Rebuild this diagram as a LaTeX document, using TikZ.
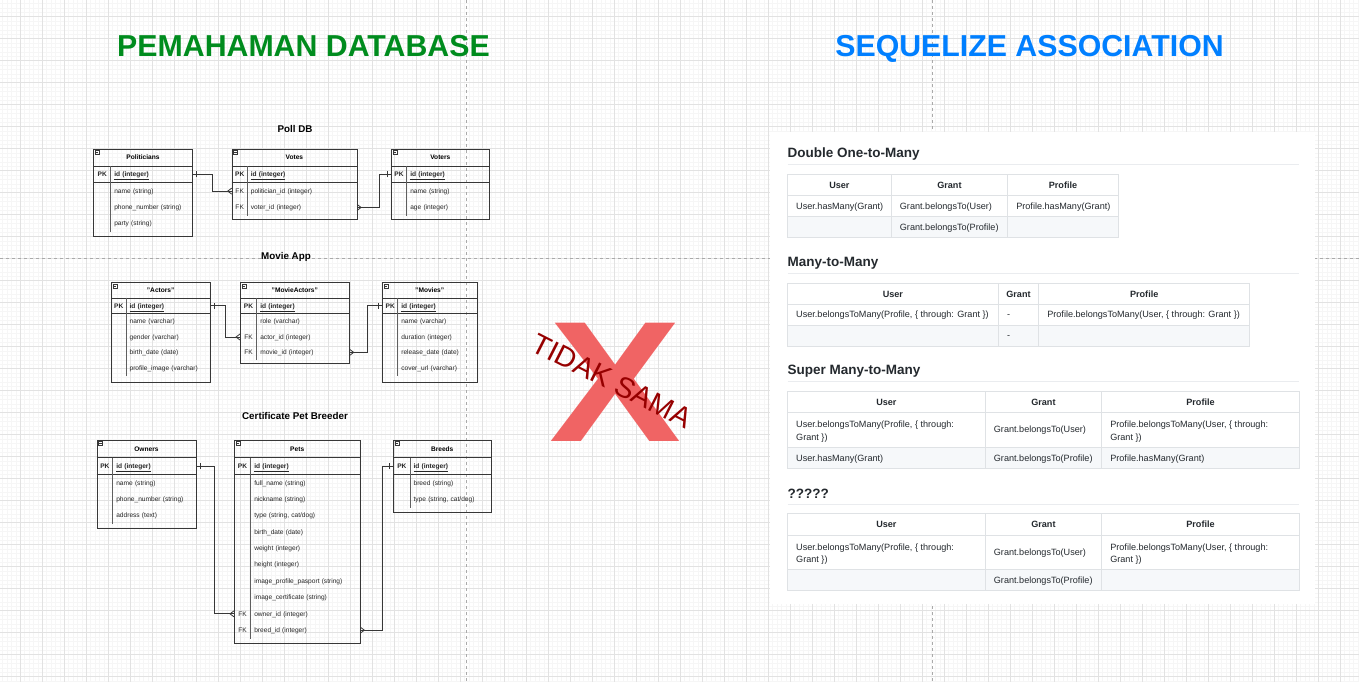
\documentclass[tikz,border=0pt]{standalone}
\usepackage{fontspec}
\setmainfont{Liberation Sans}
\usetikzlibrary{calc,decorations.markings}

\definecolor{minorc}{RGB}{246,246,246}
\definecolor{majorc}{RGB}{226,226,226}
\definecolor{breakc}{RGB}{170,170,170}
\definecolor{erc}{RGB}{55,55,55}
\definecolor{greenc}{RGB}{0,140,30}
\definecolor{bluec}{RGB}{0,127,255}
\definecolor{crossc}{RGB}{240,100,100}
\definecolor{darkredc}{RGB}{150,0,0}
\definecolor{ghtextc}{RGB}{36,41,46}
\definecolor{ghborderc}{RGB}{223,226,229}
\definecolor{ghrulec}{RGB}{234,236,239}
\definecolor{ghstripec}{RGB}{246,248,250}

\tikzstyle{gridminor}=[draw=minorc,line width=0.6pt]
\tikzstyle{gridmajor}=[draw=majorc,line width=0.8pt]
\tikzstyle{pagebreak}=[draw=breakc,line width=0.8pt,dash pattern=on 3pt off 3pt]
\tikzstyle{bigtitle}=[font=\bfseries\fontsize{30.3}{32}\selectfont,anchor=base,inner sep=0]
\tikzstyle{ertitle}=[font=\bfseries\fontsize{9.8}{11}\selectfont,anchor=base,inner sep=0]
\tikzstyle{erline}=[draw=erc,line width=0.8pt]
\tikzstyle{erdiv}=[draw=erc!80,line width=0.6pt]
\tikzstyle{erbox}=[erline,rectangle,inner sep=0]
\tikzstyle{erhead}=[rectangle,inner sep=0,font=\bfseries\fontsize{6.6}{8}\selectfont]
\tikzstyle{errow}=[rectangle,inner sep=0,align=left,text=black!85,font=\fontsize{6.6}{8}\selectfont,text height=4.7pt,text depth=0.3pt]
\tikzstyle{onestart}=[postaction={decorate,decoration={markings,mark=at position 4pt with {\draw[erline] (0pt,-3pt) -- (0pt,3pt);}}}]
\tikzstyle{oneend}=[postaction={decorate,decoration={markings,mark=at position -4pt with {\draw[erline] (0pt,-3pt) -- (0pt,3pt);}}}]
\tikzstyle{manystart}=[postaction={decorate,decoration={markings,mark=at position 4pt with {\draw[erline] (-4pt,-3pt) -- (0pt,0pt) -- (-4pt,3pt);}}}]
\tikzstyle{manyend}=[postaction={decorate,decoration={markings,mark=at position -4pt with {\draw[erline] (4pt,-3pt) -- (0pt,0pt) -- (4pt,3pt);}}}]
\tikzstyle{ghheading}=[font=\bfseries\fontsize{13.5}{15}\selectfont,text=ghtextc,anchor=base west,inner sep=0]
\tikzstyle{ghrule}=[draw=ghrulec,line width=0.8pt]
\tikzstyle{ghgrid}=[draw=ghborderc,line width=0.8pt]
\tikzstyle{ghhead}=[font=\bfseries\fontsize{9.1}{11}\selectfont,text=ghtextc,inner sep=0,text height=6.5pt,text depth=0pt]
\tikzstyle{ghcell}=[font=\fontsize{9.1}{11}\selectfont,text=ghtextc,inner sep=0,anchor=west,text height=6.5pt,text depth=0.5pt]
\tikzstyle{ghwrap}=[font=\fontsize{9.1}{12.3}\selectfont,text=ghtextc,inner sep=0,anchor=west,align=left]

% name, left, top, width, key column, bottom, title, pk field, rows
\newcommand{\ertable}[9]{%
  \node[erbox,minimum width=#4,minimum height={#6-#3},anchor=north west] (#1) at (#2,#3) {};
  \node[erhead,minimum width=#4,minimum height=\headh,anchor=north west] (#1-h) at (#2,#3) {#7};
  \draw[erline,line width=0.5pt] ([shift={(1.8pt,-1.6pt)}]#1-h.north west) rectangle ++(4pt,-4pt);
  \draw[erline,line width=0.5pt] ([shift={(2.6pt,-3.6pt)}]#1-h.north west) -- ++(2.4pt,0pt);
  \node[errow,text width=#4pt,minimum height=\rowh,anchor=north west] (#1-0) at (#1-h.south west)
    {\makebox[#5pt]{\bfseries PK}\hspace{3.4pt}\textbf{\underline{#8}}};
  \draw[erline] (#1-h.south west) -- (#1-h.south east);
  \draw[erline] (#1-0.south west) -- (#1-0.south east);
  \draw[erdiv] ([xshift=#5pt]#1-0.north west) -- ([xshift=#5pt]#1-0.south west);
  \foreach \rk/\rt [count=\i] in {#9} {
    \node[errow,text width=#4pt,minimum height=\rowh,anchor=north west] (#1-\i)
      at ([yshift={-(\i-1)*\rowh}]#1-0.south west) {\makebox[#5pt]{\rk}\hspace{3.4pt}\rt};
    \draw[erdiv] ([xshift=#5pt]#1-\i.north west) -- ([xshift=#5pt]#1-\i.south west);
  }
}

% left, col a, col b, right, top, row a, row b, bottom
\newcommand{\ghframe}[8]{%
  \fill[ghstripec] (#1,#7) rectangle (#4,#8);
  \draw[ghgrid] (#1,#5) rectangle (#4,#8);
  \draw[ghgrid] (#1,#6) -- (#4,#6) (#1,#7) -- (#4,#7) (#2,#5) -- (#2,#8) (#3,#5) -- (#3,#8);
}

\begin{document}
\begin{tikzpicture}[x=1pt,y=-1pt]
\useasboundingbox (0,0) rectangle (1359,682);
\fill[white] (0,0) rectangle (1359,682);
\draw[gridminor] \foreach \g in {0,...,308} {({2.7+4.4*\g},0) -- ({2.7+4.4*\g},682)};
\draw[gridminor] \foreach \g in {0,...,154} {(0,{3.5+4.4*\g}) -- (1359,{3.5+4.4*\g})};
\draw[gridmajor] \foreach \g in {0,...,61} {({20.3+22*\g},0) -- ({20.3+22*\g},682)};
\draw[gridmajor] \foreach \g in {0,...,30} {(0,{16.7+22*\g}) -- (1359,{16.7+22*\g})};
\draw[pagebreak] (466.3,0) -- (466.3,682) (932.6,0) -- (932.6,682) (0,258.3) -- (1359,258.3);

\node[bigtitle,text=greenc] (ttl-db) at (303.5,56.7) {PEMAHAMAN DATABASE};
\node[bigtitle,text=bluec] (ttl-seq) at (1029.5,56.7) {SEQUELIZE ASSOCIATION};

\node[ertitle] (poll) at (295,132.8) {Poll DB};
\def\headh{16.7}\def\rowh{16.3}
\ertable{pol}{93.3}{149}{99}{17.4}{236}{Politicians}{id (integer)}{{}/name (string), {}/phone\_number (string), {}/party (string)}
\ertable{vot}{231.7}{149}{125}{15.6}{219.3}{Votes}{id (integer)}{FK/politician\_id (integer), FK/voter\_id (integer)}
\ertable{vtr}{391}{149}{98.3}{15.7}{219.3}{Voters}{id (integer)}{{}/name (string), {}/age (integer)}
\draw[erline,onestart,manyend] (pol-0.east) -- ++(19.4,0) |- (vot-1.west);
\draw[erline,manystart,oneend] (vot-2.east) -- ++(22.6,0) |- (vtr-0.west);

\node[ertitle] (movie) at (286,259.3) {Movie App};
\def\headh{15.2}\def\rowh{15.4}
\ertable{act}{111}{282.3}{99}{15}{381.7}{"Actors"}{id (integer)}{{}/name (varchar), {}/gender (varchar), {}/birth\_date (date), {}/profile\_image (varchar)}
\ertable{mac}{240}{282.3}{109.3}{16.7}{363.3}{"MovieActors"}{id (integer)}{{}/role (varchar), FK/actor\_id (integer), FK/movie\_id (integer)}
\ertable{mov}{382.3}{282.3}{94.4}{15.4}{381.7}{"Movies"}{id (integer)}{{}/name (varchar), {}/duration (integer), {}/release\_date (date), {}/cover\_url (varchar)}
\draw[erline,onestart,manyend] (act-0.east) -- ++(15,0) |- (mac-2.west);
\draw[erline,manystart,oneend] (mac-3.east) -- ++(17.4,0) |- (mov-0.west);

\node[ertitle] (breeder) at (295,419.5) {Certificate Pet Breeder};
\def\headh{17.3}\def\rowh{16.37}
\ertable{own}{96.7}{440}{99}{16}{528}{Owners}{id (integer)}{{}/name (string), {}/phone\_number (string), {}/address (text)}
\ertable{pet}{234}{440}{126}{16.7}{643.3}{Pets}{id (integer)}{{}/full\_name (string), {}/nickname (string), {}/{type (string, cat/dog)}, {}/birth\_date (date), {}/weight (integer), {}/height (integer), {}/image\_profile\_pasport (string), {}/image\_certificate (string), FK/owner\_id (integer), FK/breed\_id (integer)}
\ertable{brd}{393.3}{440}{97.4}{16.7}{511.7}{Breeds}{id (integer)}{{}/breed (string), {}/{type (string, cat/dog)}}
\draw[erline,onestart,manyend] (own-0.east) -- ++(18.6,0) |- (pet-9.west);
\draw[erline,manystart,oneend] (pet-10.east) -- ++(22.3,0) |- (brd-0.west);

\node[inner sep=0,text=crossc,font=\bfseries\fontsize{172}{172}\selectfont] (cross) at (615,382.5) {\scalebox{1.15}[1]{X}};
\node[inner sep=0,text=darkredc,font=\fontsize{28.8}{30}\selectfont,rotate=-27] (notsame) at (612,380.8) {TIDAK SAMA};

\fill[white] (770,131.7) rectangle (1315,604);

\node[ghheading] (h-double) at (787.5,157.3) {Double One-to-Many};
\draw[ghrule] (787.5,164.3) -- (1299.3,164.3);
\ghframe{787.5}{891.2}{1007.6}{1118.5}{174.3}{195.3}{216.7}{237.7}
\node[ghhead] (d-user) at (839.4,184.8) {User};
\node[ghhead] (d-grant) at (949.4,184.8) {Grant};
\node[ghhead] (d-profile) at (1063,184.8) {Profile};
\node[ghcell] (d-u1) at (796,206) {User.hasMany(Grant)};
\node[ghcell] (d-g1) at (899.7,206) {Grant.belongsTo(User)};
\node[ghcell] (d-p1) at (1016.1,206) {Profile.hasMany(Grant)};
\node[ghcell] (d-g2) at (899.7,227.2) {Grant.belongsTo(Profile)};

\node[ghheading] (h-many) at (787.5,266.3) {Many-to-Many};
\draw[ghrule] (787.5,273.3) -- (1299.3,273.3);
\ghframe{787.5}{998.3}{1038.6}{1249.7}{283.3}{304.3}{325.3}{346.3}
\node[ghhead] (m-user) at (892.9,293.8) {User};
\node[ghhead] (m-grant) at (1018.5,293.8) {Grant};
\node[ghhead] (m-profile) at (1144.2,293.8) {Profile};
\node[ghcell] (m-u1) at (796,314.8) {User.belongsToMany(Profile, \{ through: Grant \})};
\node[ghcell] (m-g1) at (1006.8,314.8) {-};
\node[ghcell] (m-p1) at (1047.1,314.8) {Profile.belongsToMany(User, \{ through: Grant \})};
\node[ghcell] (m-g2) at (1006.8,335.8) {-};

\node[ghheading] (h-super) at (787.5,374.6) {Super Many-to-Many};
\draw[ghrule] (787.5,381.7) -- (1299.3,381.7);
\ghframe{787.5}{985.2}{1101.6}{1299.3}{391.3}{412.3}{447.3}{468.7}
\node[ghhead] (s-user) at (886.4,401.8) {User};
\node[ghhead] (s-grant) at (1043.4,401.8) {Grant};
\node[ghhead] (s-profile) at (1200.5,401.8) {Profile};
\node[ghwrap] (s-u1) at (796,431.6) {User.belongsToMany(Profile, \{ through:\\Grant \})};
\node[ghcell] (s-g1) at (993.7,429.8) {Grant.belongsTo(User)};
\node[ghwrap] (s-p1) at (1110.1,431.6) {Profile.belongsToMany(User, \{ through:\\Grant \})};
\node[ghcell] (s-u2) at (796,458) {User.hasMany(Grant)};
\node[ghcell] (s-g2) at (993.7,458) {Grant.belongsTo(Profile)};
\node[ghcell] (s-p2) at (1110.1,458) {Profile.hasMany(Grant)};

\node[ghheading] (h-unknown) at (787.5,498) {?????};
\draw[ghrule] (787.5,504.3) -- (1299.3,504.3);
\ghframe{787.5}{985.2}{1101.6}{1299.3}{513.3}{535}{569.3}{590.7}
\node[ghhead] (q-user) at (886.4,524.2) {User};
\node[ghhead] (q-grant) at (1043.4,524.2) {Grant};
\node[ghhead] (q-profile) at (1200.5,524.2) {Profile};
\node[ghwrap] (q-u1) at (796,554) {User.belongsToMany(Profile, \{ through:\\Grant \})};
\node[ghcell] (q-g1) at (993.7,552.2) {Grant.belongsTo(User)};
\node[ghwrap] (q-p1) at (1110.1,554) {Profile.belongsToMany(User, \{ through:\\Grant \})};
\node[ghcell] (q-g2) at (993.7,580) {Grant.belongsTo(Profile)};
\end{tikzpicture}
\end{document}
